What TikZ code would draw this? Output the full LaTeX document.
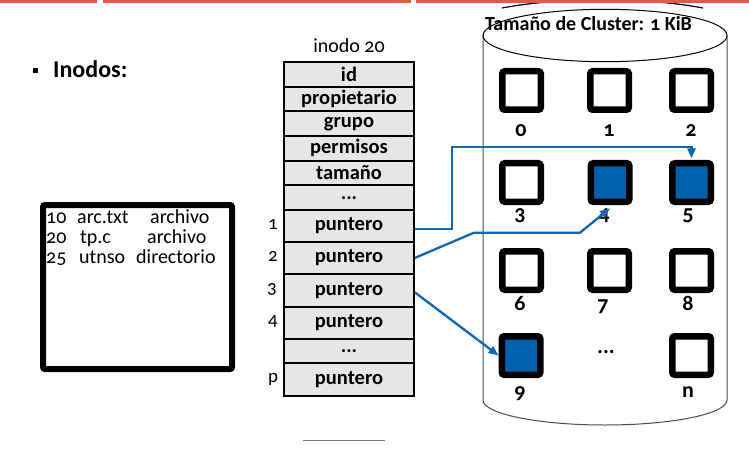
\documentclass[tikz,border=0pt]{standalone}
\usepackage{fontspec}
\setmainfont{Carlito}[Numbers=OldStyle]
\usetikzlibrary{arrows.meta,calc}
\definecolor{topred}{HTML}{E8574A}
\definecolor{cellgray}{HTML}{E6E6E6}
\definecolor{blockblue}{HTML}{0061AE}
\definecolor{lineblue}{HTML}{1166B4}
\definecolor{cylgray}{HTML}{4A4A4A}
\newcommand\myfs[1]{\fontsize{#1}{#1}\selectfont}
\tikzset{
  cell/.style={draw=black, line width=1.8pt, fill=cellgray, minimum width=130pt, inner sep=0pt, font=\myfs{20.5}\bfseries},
  blk/.style={draw=black, line width=6.5pt, minimum size=38.5pt, rounded corners=2.5pt, inner sep=0pt, fill=white},
  blkfull/.style={blk, fill=blockblue},
  blbl/.style={font=\myfs{22}\bfseries, inner sep=0pt},
  rlbl/.style={font=\myfs{19}, inner sep=0pt},
  dtxt/.style={font=\myfs{20}, inner sep=0pt, anchor=base west},
  ptr/.style={draw=lineblue, line width=2.3pt, -{Triangle[length=10pt,width=8pt]}}
}
\begin{document}
\begin{tikzpicture}[x=1pt,y=-1pt]
\useasboundingbox (0,0) rectangle (749,449);

% top partial arc and red band
\draw[black, line width=1.2pt] (502,8) .. controls (560,-3) and (645,-3) .. (703,8);
\fill[topred] (0,0) rectangle (97,2.6);
\fill[topred] (103,0) rectangle (411,2.6);
\fill[topred] (416,0) rectangle (749,2.6);

% bullet and title
\fill[black] (32.5,68.5) rectangle (37.5,73.5);
\node[font=\myfs{24}\bfseries, inner sep=0pt, anchor=base west] (title) at (53,78) {Inodos:};

% directory box
\node[draw=black, line width=6pt, rounded corners=2pt, minimum width=189pt, minimum height=164pt, inner sep=0pt] (dir) at (137.5,287) {};
\node[dtxt] (d1a) at (46,223) {10};
\node[dtxt] (d1b) at (77,223) {arc.txt};
\node[dtxt] (d1c) at (150,223) {archivo};
\node[dtxt] (d2a) at (46,243.5) {20};
\node[dtxt] (d2b) at (80,243.5) {tp.c};
\node[dtxt] (d2c) at (147,243.5) {archivo};
\node[dtxt] (d3a) at (46,263.5) {25};
\node[dtxt] (d3b) at (79,263.5) {utnso};
\node[dtxt] (d3c) at (136,263.5) {directorio};

% inode table
\node[font=\myfs{20}, inner sep=0pt] (ihead) at (349,46) {inodo 20};
\node[cell, minimum height=24.7pt] (r1) at (349,74.3) {id};
\node[cell, minimum height=24.7pt] (r2) at (349,99) {propietario};
\node[cell, minimum height=24.7pt] (r3) at (349,123.7) {grupo};
\node[cell, minimum height=24.7pt] (r4) at (349,148.3) {permisos};
\node[cell, minimum height=24.7pt] (r5) at (349,173) {tamaño};
\node[cell, minimum height=24.7pt] (r6) at (349,197.7) {...};
\node[cell, minimum height=31.7pt] (p1) at (349,225.9) {puntero};
\node[cell, minimum height=32.3pt] (p2) at (349,257.9) {puntero};
\node[cell, minimum height=32.7pt] (p3) at (349,290.4) {puntero};
\node[cell, minimum height=32.3pt] (p4) at (349,322.9) {puntero};
\node[cell, minimum height=23.7pt] (pd) at (349,350.9) {...};
\node[cell, minimum height=33.3pt] (pp) at (349,379.4) {puntero};
\node[rlbl] (l1) at (273,224) {1};
\node[rlbl] (l2) at (273,256) {2};
\node[rlbl] (l3) at (272,289) {3};
\node[rlbl] (l4) at (273,321) {4};
\node[rlbl] (lp) at (273,379) {p};

% bottom small line
\draw[draw=black!55, line width=1.2pt] (303,440.7) -- (385,440.7);

% cylinder
\draw[cylgray, line width=1pt] (483,35.5) -- (483,400) arc[start angle=180, end angle=360, x radius=122, y radius=-25] -- (727,35.5);
\draw[black, line width=1pt] (605,35.5) ellipse[x radius=122, y radius=26.2];
\node[font=\myfs{20}\bfseries, inner sep=0pt] (ctitle) at (588.5,24) {Tamaño de Cluster: 1 KiB};

% blocks
\node[blk] (b0) at (521.5,90.5) {};
\node[blk] (b1) at (609.5,90.5) {};
\node[blk] (b2) at (691.5,90.5) {};
\node[blk] (b3) at (521.5,182.5) {};
\node[blkfull] (b4) at (610,182.5) {};
\node[blkfull] (b5) at (691.5,182.5) {};
\node[blk] (b6) at (521.5,270.5) {};
\node[blk] (b7) at (609.5,270.5) {};
\node[blk] (b8) at (691.5,270.5) {};
\node[blkfull] (b9) at (521,355.5) {};
\node[blk] (bn) at (691.5,355.5) {};
\node[blbl] (bd) at (606,352) {...};

\node[blbl] (n0) at (521,131) {0};
\node[blbl] (n1) at (609,131) {1};
\node[blbl] (n2) at (691,131) {2};
\node[blbl] (n3) at (520,216) {3};
\node[blbl] (n4) at (604,216) {4};
\node[blbl] (n5) at (688,216) {5};
\node[blbl] (n6) at (520,303) {6};
\node[blbl] (n7) at (603,307) {7};
\node[blbl] (n8) at (688,303) {8};
\node[blbl] (n9) at (520,394) {9};
\node[blbl] (nn) at (688,392) {n};

% pointers
\coordinate (k1) at (452,147.3);
\draw[ptr] ([yshift=-3pt]p1.east) -| (k1) -| ([yshift=1.5pt]b5.north);
\coordinate (k2a) at (474,232.7);
\coordinate (k2b) at (580,232.7);
\draw[ptr] (p2.east) -- (k2a) -- (k2b) -- ([yshift=-3.25pt]b4.south);
\draw[ptr] ([yshift=-2pt]p3.east) -- (b9.west);
\end{tikzpicture}
\end{document}
